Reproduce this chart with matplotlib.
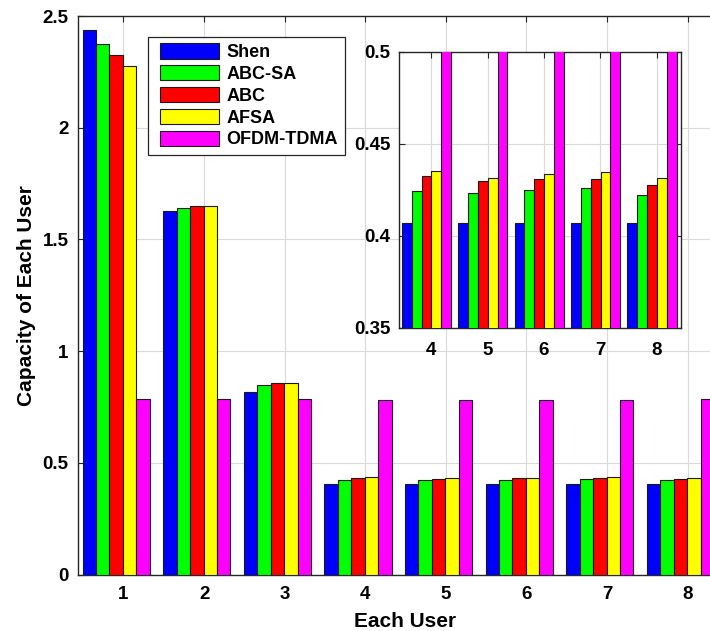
import matplotlib
matplotlib.use("Agg")
import matplotlib.pyplot as plt
from matplotlib.container import BarContainer
from matplotlib.legend_handler import HandlerPatch, update_from_first_child
import numpy as np

plt.rcParams["font.family"] = ["Liberation Sans", "DejaVu Sans"]
plt.rcParams["font.weight"] = "bold"

users = np.arange(1, 9)
methods = ["Shen", "ABC-SA", "ABC", "AFSA", "OFDM-TDMA"]
colors = ["#0000ff", "#00ff00", "#ff0000", "#ffff00", "#ff00ff"]

shen = [2.439, 1.627, 0.816, 0.4072, 0.4072, 0.4072, 0.4072, 0.4072]
abc_sa = [2.376, 1.642, 0.848, 0.4246, 0.4234, 0.4252, 0.4261, 0.4223]
abc = [2.327, 1.648, 0.858, 0.4326, 0.4297, 0.4308, 0.4312, 0.4275]
afsa = [2.278, 1.651, 0.859, 0.4353, 0.4317, 0.4339, 0.4348, 0.4315]
ofdm = [0.786, 0.786, 0.785, 0.783, 0.780, 0.783, 0.783, 0.785]
series = [shen, abc_sa, abc, afsa, ofdm]

y_ticks = [0, 0.5, 1, 1.5, 2, 2.5]
y_labels = ["0", "0.5", "1", "1.5", "2", "2.5"]
inset_ticks = [0.35, 0.4, 0.45, 0.5]
inset_labels = ["0.35", "0.4", "0.45", "0.5"]

edge = "#1a1a1a"
spine = "#262626"

fig = plt.figure(figsize=(7.1, 6.31), dpi=100)
ax = fig.add_axes([0.1092, 0.0895, 0.924, 0.885])

w = 0.167
for i, vals in enumerate(series):
    ax.bar(users - 0.09 + (i - 2) * w, vals, width=w, color=colors[i],
           edgecolor=edge, linewidth=0.8, label=methods[i], zorder=3)

ax.set_xlim(0.43, 8.57)
ax.set_ylim(0, 2.5)
ax.set_xticks(users)
ax.set_yticks(y_ticks)
ax.set_yticklabels(y_labels)
ax.grid(True, color="#dadada", linewidth=0.8)
ax.set_axisbelow(True)
ax.tick_params(direction="in", top=True, right=True, length=4, width=0.8,
               labelsize=13.5, pad=6.5, color=spine)
ax.tick_params(axis="x", pad=8)
for s in ax.spines.values():
    s.set_color(spine)
    s.set_linewidth(1.0)
ax.set_xlabel("Each User", fontsize=15, fontweight="bold", labelpad=7)
ax.set_ylabel("Capacity of Each User", fontsize=15, fontweight="bold", labelpad=5)

# handles start a bit in from the frame, as in the original
bar_handler = HandlerPatch(xpad=0.3, update_func=update_from_first_child)
leg = ax.legend(loc="upper left", bbox_to_anchor=(0.108, 0.963), borderaxespad=0,
                fontsize=13, handlelength=3.55, handleheight=0.92,
                handletextpad=0.4, labelspacing=0.22, borderpad=0.37,
                fancybox=False, framealpha=1, edgecolor=spine,
                handler_map={BarContainer: bar_handler})
leg.get_frame().set_linewidth(0.9)

# zoomed inset for users 4-8
axi = fig.add_axes([0.5613, 0.4802, 0.3979, 0.4374])
wi = 0.175
for i, vals in enumerate(series):
    axi.bar(users - 0.085 + (i - 2) * wi, vals, width=wi, color=colors[i],
            edgecolor=edge, linewidth=0.8, zorder=3)
axi.set_xlim(3.42, 8.43)
axi.set_ylim(0.35, 0.5)
axi.set_xticks(users[3:])
axi.set_yticks(inset_ticks)
axi.set_yticklabels(inset_labels)
axi.grid(True, color="#dadada", linewidth=0.8)
axi.set_axisbelow(True)
axi.tick_params(direction="in", top=True, right=True, length=4, width=0.8,
                labelsize=13.5, color=spine)
axi.tick_params(axis="x", pad=10)
axi.tick_params(axis="y", pad=5.8)
for s in axi.spines.values():
    s.set_color(spine)
    s.set_linewidth(1.0)

plt.savefig("out.png", dpi=100)
